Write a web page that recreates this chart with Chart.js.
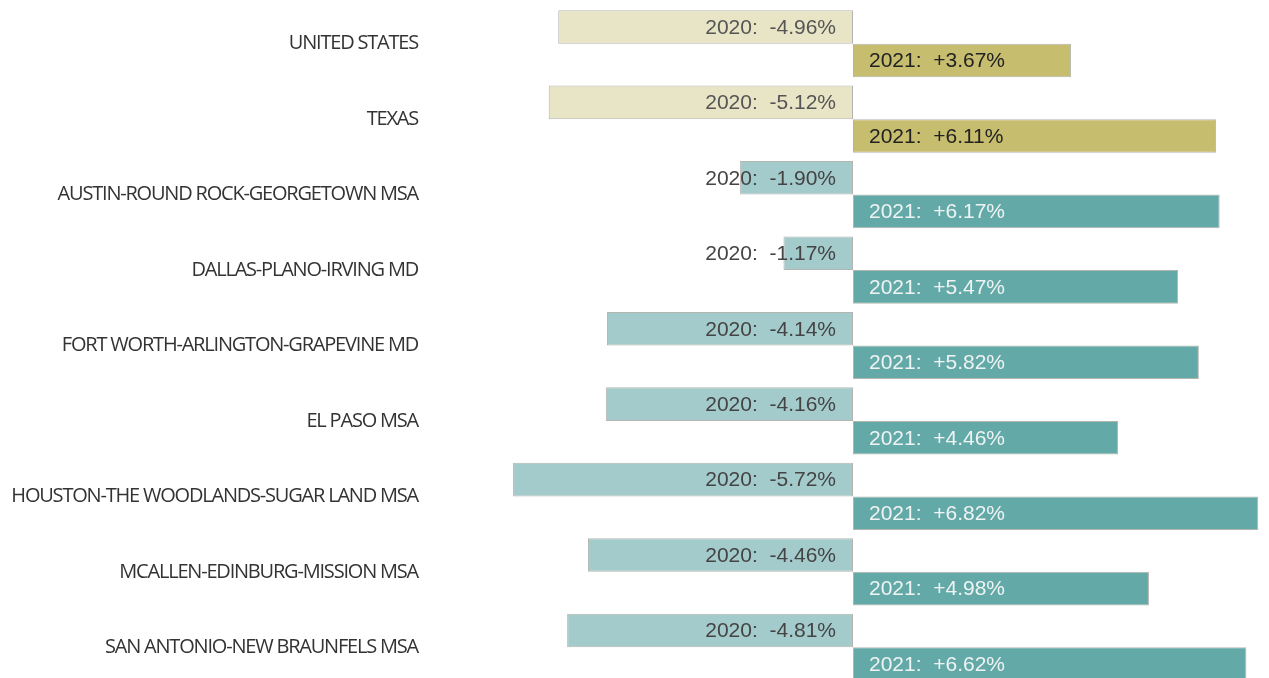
<!DOCTYPE html>
<html>
<head>
<meta charset="utf-8">
<script src="https://cdn.jsdelivr.net/npm/chart.js@4"></script>
<style>
  html, body { margin: 0; padding: 0; background: #fff; overflow: hidden; }
  #wrap { width: 1269px; height: 685px; position: relative; }
</style>
</head>
<body>
<div id="wrap"><canvas id="myChart"></canvas></div>
<script>
var areas = ['UNITED STATES', 'TEXAS', 'AUSTIN-ROUND ROCK-GEORGETOWN MSA', 'DALLAS-PLANO-IRVING MD',
    'FORT WORTH-ARLINGTON-GRAPEVINE MD', 'EL PASO MSA', 'HOUSTON-THE WOODLANDS-SUGAR LAND MSA',
    'MCALLEN-EDINBURG-MISSION MSA', 'SAN ANTONIO-NEW BRAUNFELS MSA'];
var change2020 = [-4.96, -5.12, -1.90, -1.17, -4.14, -4.16, -5.72, -4.46, -4.81];
var change2021 = [3.67, 6.11, 6.17, 5.47, 5.82, 4.46, 6.82, 4.98, 6.62];

// first two rows (US, Texas) are drawn in the olive palette
function isOlive(i) { return i < 2; }

var barLabels = {
    id: 'barLabels',
    afterDatasetsDraw: function (chart) {
        var ctx = chart.ctx;
        ctx.save();
        ctx.letterSpacing = '0px';
        ctx.font = '21px "Liberation Sans", Arial, sans-serif';
        ctx.textBaseline = 'middle';
        chart.data.datasets.forEach(function (ds, d) {
            var meta = chart.getDatasetMeta(d);
            meta.data.forEach(function (bar, i) {
                var v = ds.data[i];
                var sign = v > 0 ? '+' : '';
                var txt = ds.label + ':  ' + sign + v.toFixed(2) + '%';
                if (d === 0) {
                    ctx.textAlign = 'right';
                    ctx.fillStyle = isOlive(i) ? '#555555' : '#444444';
                    ctx.fillText(txt, bar.base - 17, bar.y + 1);
                } else {
                    ctx.textAlign = 'left';
                    ctx.fillStyle = isOlive(i) ? '#222222' : '#eef4f3';
                    ctx.fillText(txt, bar.base + 16, bar.y + 1);
                }
            });
        });
        ctx.restore();
    }
};

var tightTicks = {
    id: 'tightTicks',
    beforeDraw: function (chart) { chart.ctx.letterSpacing = '-1.2px'; },
    beforeDatasetsDraw: function (chart) { chart.ctx.letterSpacing = '0px'; }
};

var ctx = document.getElementById('myChart').getContext('2d');
var myChart = new Chart(ctx, {
    type: 'bar',
    data: {
        labels: areas,
        datasets: [{
            label: '2020',
            data: change2020,
            backgroundColor: function (c) { return isOlive(c.dataIndex) ? '#e8e4c6' : '#a4cbcc'; },
            borderColor: '#b5b5b0',
            borderWidth: 1,
            borderSkipped: false,
            categoryPercentage: 0.89,
            barPercentage: 1.0
        }, {
            label: '2021',
            data: change2021,
            backgroundColor: function (c) { return isOlive(c.dataIndex) ? '#c7bd6e' : '#63a9a7'; },
            borderColor: '#b5b5b0',
            borderWidth: 1,
            borderSkipped: false,
            categoryPercentage: 0.89,
            barPercentage: 1.0
        }]
    },
    options: {
        indexAxis: 'y',
        responsive: true,
        maintainAspectRatio: false,
        animation: false,
        layout: { padding: { top: 6, right: 0, bottom: 0, left: 0 } },
        plugins: {
            legend: { display: false },
            tooltip: { enabled: false }
        },
        scales: {
            x: {
                display: false,
                min: -7,
                max: 7
            },
            y: {
                grid: { display: false, drawTicks: false },
                border: { display: false },
                ticks: {
                    padding: 19,
                    color: '#333333',
                    font: { family: '"Open Sans", sans-serif', size: 20 }
                },
                afterFit: function (scale) {
                    scale.width = 437;
                    scale.paddingTop = 0;
                    scale.paddingBottom = 0;
                }
            }
        }
    },
    plugins: [barLabels, tightTicks]
});
</script>
</body>
</html>
